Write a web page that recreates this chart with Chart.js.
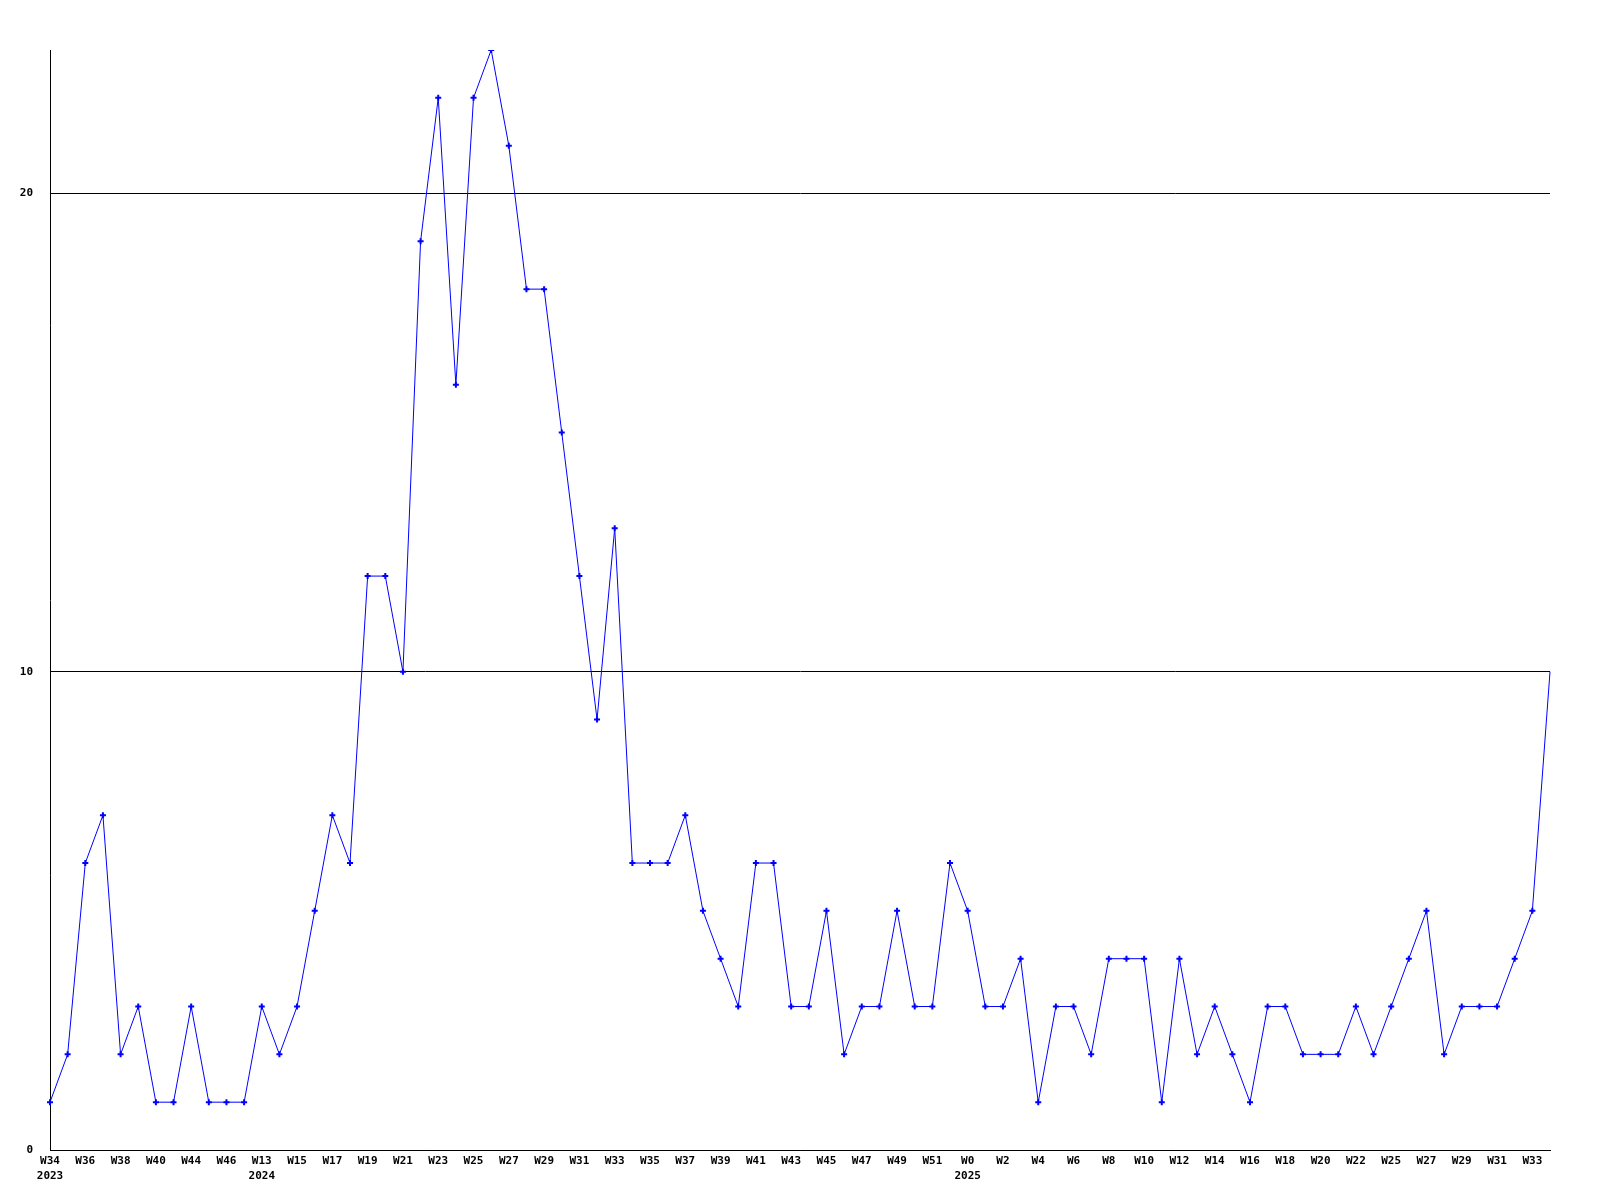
<!DOCTYPE html>
<html>
<head>
<meta charset="utf-8">
<script src="https://cdn.jsdelivr.net/npm/chart.js@4/dist/chart.umd.min.js"></script>
<style>
    html, body { margin: 0; padding: 0; background: #fff; }
    canvas { display: block; }
</style>
</head>
<body>
<canvas id="weekChart" width="1600" height="1200"></canvas>
<script>
// weekly counts, gaps in the weeks are as in the source
const weeks = [
    "W34", "W35", "W36", "W37", "W38", "W39", "W40", "W41", "W44", "W45",
    "W46", "W47", "W13", "W14", "W15", "W16", "W17", "W18", "W19", "W20",
    "W21", "W22", "W23", "W24", "W25", "W26", "W27", "W28", "W29", "W30",
    "W31", "W32", "W33", "W34", "W35", "W36", "W37", "W38", "W39", "W40",
    "W41", "W42", "W43", "W44", "W45", "W46", "W47", "W48", "W49", "W50",
    "W51", "W52", "W0", "W1", "W2", "W3", "W4", "W5", "W6", "W7",
    "W8", "W9", "W10", "W11", "W12", "W13", "W14", "W15", "W16", "W17",
    "W18", "W19", "W20", "W21", "W22", "W24", "W25", "W26", "W27", "W28",
    "W29", "W30", "W31", "W32", "W33", "W34"
];
const yearStarts = [0, 12, 52];
const years = ["2023", "2024", "2025"];

const counts = [
    1, 2, 6, 7, 2, 3, 1, 1, 3, 1,
    1, 1, 3, 2, 3, 5, 7, 6, 12, 12,
    10, 19, 22, 16, 22, 23, 21, 18, 18, 15,
    12, 9, 13, 6, 6, 6, 7, 5, 4, 3,
    6, 6, 3, 3, 5, 2, 3, 3, 5, 3,
    3, 6, 5, 3, 3, 4, 1, 3, 3, 2,
    4, 4, 4, 1, 4, 2, 3, 2, 1, 3,
    3, 2, 2, 2, 3, 2, 3, 4, 5, 2,
    3, 3, 3, 4, 5, 10
];

const yMax = 23;
const yTicks = [0, 10, 20];

const tickFont = { family: "'DejaVu Sans Mono', monospace", size: 11, weight: "bold", lineHeight: 1.35 };

const ctx = document.getElementById("weekChart").getContext("2d");
new Chart(ctx, {
    type: "line",
    data: {
        labels: weeks,
        datasets: [{
            data: counts,
            borderColor: "#0000ff",
            backgroundColor: "#0000ff",
            borderWidth: 1,
            tension: 0,
            fill: false,
            pointStyle: "cross",
            pointRadius: c => c.dataIndex === counts.length - 1 ? 0 : 3,
            pointBorderWidth: 2,
            pointBorderColor: "#0000ff"
        }]
    },
    options: {
        responsive: false,
        animation: false,
        layout: { padding: { top: 50, right: 50, left: 0, bottom: 0 } },
        plugins: { legend: { display: false }, tooltip: { enabled: false } },
        scales: {
            x: {
                grid: { display: false, drawTicks: false },
                border: { display: true, color: "#000", width: 1 },
                ticks: {
                    autoSkip: false,
                    maxRotation: 0,
                    minRotation: 0,
                    padding: 4,
                    color: "#000",
                    font: tickFont,
                    callback: function (val, i) {
                        if (i % 2 !== 0) return "";
                        const y = yearStarts.indexOf(i);
                        return y >= 0 ? [weeks[i], years[y]] : weeks[i];
                    }
                },
                afterFit: scale => { scale.height = 50; }
            },
            y: {
                min: 0,
                max: yMax,
                grid: { color: "#000", lineWidth: 1, drawTicks: false },
                border: { display: true, color: "#000", width: 1 },
                ticks: {
                    padding: 17,
                    color: "#000",
                    font: tickFont
                },
                afterBuildTicks: scale => {
                    scale.ticks = yTicks.map(v => ({ value: v }));
                },
                afterFit: scale => { scale.width = 50; }
            }
        }
    }
});
</script>
</body>
</html>
